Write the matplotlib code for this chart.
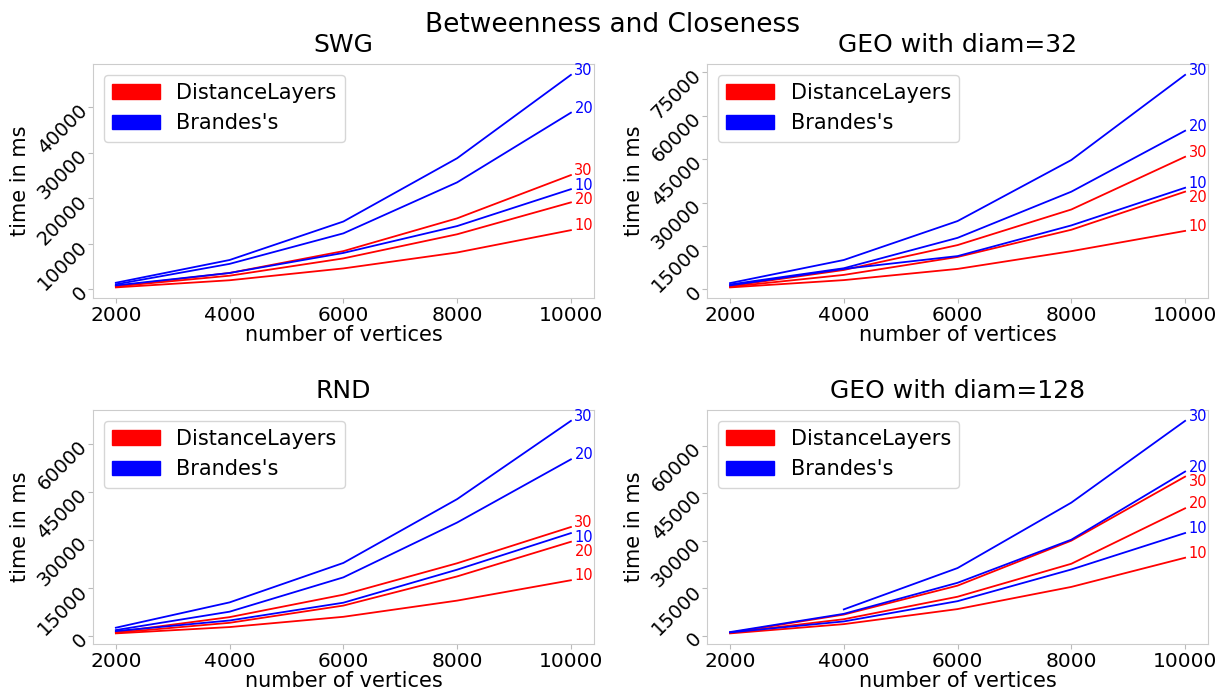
import numpy as np
import matplotlib
matplotlib.use("Agg")
import matplotlib.pyplot as plt
import matplotlib.patches as mpatches

vertices = [2000, 4000, 6000, 8000, 10000]
run_labels = ["10", "20", "30"]
titles = ["SWG", "GEO with diam=32", "RND", "GEO with diam=128"]
ytick_steps = [10000, 15000, 15000, 15000]

# time in ms, one list per run label (10, 20, 30)
swg_dl = [
    [430, 2000, 4600, 8100, 13000],
    [650, 3000, 6800, 12100, 19100],
    [700, 3600, 8400, 15600, 25100],
]
swg_br = [
    [870, 3600, 8000, 13900, 22000],
    [1100, 5600, 12300, 23500, 38800],
    [1450, 6450, 14900, 28800, 47100],
]
geo32_dl = [
    [680, 3200, 7070, 13200, 20200],
    [900, 5000, 11200, 20600, 33750],
    [1140, 6700, 15300, 27600, 45800],
]
geo32_br = [
    [1370, 7070, 11500, 22100, 35100],
    [1700, 7300, 17800, 33750, 54800],
    [2170, 10150, 23600, 44700, 74100],
]
rnd_dl = [
    [930, 2900, 6100, 11150, 17500],
    [1140, 4230, 9600, 18700, 29500],
    [1340, 6000, 13000, 22800, 34100],
]
rnd_br = [
    [1650, 4950, 10500, 20800, 32200],
    [1960, 7700, 18400, 35500, 55200],
    [2700, 10600, 22900, 42800, 67200],
]
geo128_dl = [
    [730, 3650, 8400, 15400, 24600],
    [940, 5200, 12300, 22700, 40200],
    [940, 6670, 15800, 30000, 50200],
]
geo128_br = [
    [1040, 4500, 10900, 20900, 32400],
    [1150, 6900, 16700, 30300, 51800],
    [np.nan, 8300, 21350, 42000, 67800],
]

panels = [
    (swg_dl, swg_br),
    (geo32_dl, geo32_br),
    (rnd_dl, rnd_br),
    (geo128_dl, geo128_br),
]

fig, axes = plt.subplots(2, 2, figsize=(12.25, 6.91), dpi=100)
fig.subplots_adjust(left=0.076, right=0.986, bottom=0.068, top=0.907,
                     wspace=0.227, hspace=0.48)
fig.suptitle("Betweenness and Closeness", fontsize=19, y=0.983)

for ax, title, step, (dl, br) in zip(axes.flat, titles, ytick_steps, panels):
    ends = []
    for series, color in [(dl, "red"), (br, "blue")]:
        for lab, ys in zip(run_labels, series):
            ax.plot(vertices, ys, color=color, lw=1.3)
            ends.append((ys[-1], lab, color))

    ax.set_title(title, fontsize=18, pad=9)
    ax.set_xlabel("number of vertices", fontsize=15, labelpad=0)
    ax.set_ylabel("time in ms", fontsize=15, labelpad=3)
    ax.set_xticks(vertices)
    ax.yaxis.set_major_locator(plt.MultipleLocator(step))
    ax.tick_params(axis="x", labelsize=14.5, color="#bbbbbb", pad=2)
    ax.tick_params(axis="y", labelsize=14, color="#bbbbbb", pad=3)
    for t in ax.get_yticklabels():
        t.set_rotation(45)
        t.set_rotation_mode("anchor")
        t.set_ha("right")
        t.set_va("center")
    for sp in ax.spines.values():
        sp.set_color("#cccccc")

    # end-of-line labels, pushed down when they collide
    ax.get_ylim()
    prev = None
    for val, lab, color in sorted(ends, key=lambda e: -e[0]):
        py = ax.transData.transform((10000, val))[1]
        target = py if prev is None else min(py, prev - 14.5)
        off = (target - py) * 72 / fig.dpi
        ax.annotate(lab, (10000, val), xytext=(2.5, off), textcoords="offset points",
                    color=color, fontsize=10.5, va="baseline", ha="left",
                    annotation_clip=False)
        prev = target

    handles = [mpatches.Patch(color="red", label="DistanceLayers"),
               mpatches.Patch(color="blue", label="Brandes's")]
    ax.legend(handles=handles, loc="upper left", fontsize=15, handlelength=2.3)

fig.savefig("out.png")
